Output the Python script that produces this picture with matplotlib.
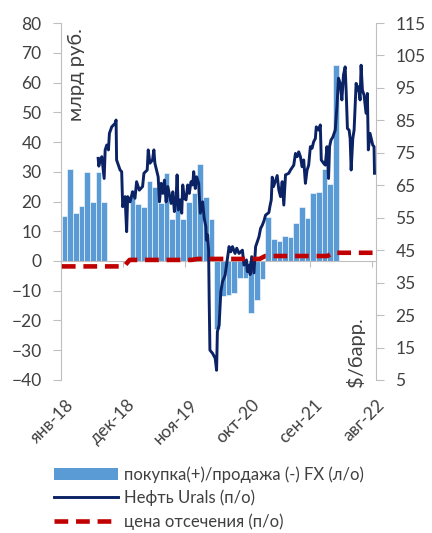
import matplotlib.pyplot as plt
import matplotlib.transforms as mtransforms
import numpy as np
from matplotlib.patches import Patch
from matplotlib.lines import Line2D

nan = np.nan

# покупка/продажа FX по месяцам, млрд руб. (янв-18 ... авг-22)
fx_ops = [
    15, 31, 16, 18.5, 30, 20, 30, 20,          # 2018 янв-авг
    nan, nan, nan, nan,                        # сен-дек 2018, пауза
    24, 19.2, 18.3, 27, 25, 19.6, 29.6, 14,    # 2019 янв-авг
    20, 14, 20, 23,                            # 2019 сен-дек
    32.7, 21.6, 14,                            # 2020 янв-мар
    -23, -11.8, -11.4, -10.6, -5.8, -5.8,      # 2020 апр-сен
    -17.4, -13, -6.2,                          # 2020 окт-дек
    14.9, 7.3, 6.8, 8.4, 8.2, 12.9, 18, 14.5,  # 2021 янв-авг
    22.7, 23.3, 31, 25.8,                      # 2021 сен-дек
    66,                                        # 2022 янв
    nan, nan, nan, nan, nan, nan, nan,         # 2022 фев-авг
]

# цена отсечения, $/барр.
cutoff_years = [2018, 2019, 2020, 2021, 2022]
cutoff_price = [40.0, 42.0, 42.3, 43.2, 44.2]

# Urals, $/барр.; время в месяцах от янв-18
urals_t = [
    6.58, 6.69, 6.94, 7.22, 7.64, 7.82, 8.10, 8.40, 8.57, 8.98, 9.58, 9.75,
    9.84, 10.46, 10.74, 10.92, 11.34, 11.62, 11.80, 12.22, 12.68, 13.10,
    13.38, 13.86, 14.44, 14.68, 15.26, 15.44, 15.74, 16.20, 16.44, 16.62,
    17.20, 17.43, 17.73, 18.03, 18.31, 18.61, 18.91, 19.19, 19.49, 19.79,
    20.07, 20.37, 20.55, 20.77, 21.07, 21.37, 21.55, 21.83, 22.13, 22.43,
    22.71, 23.01, 23.31, 23.49, 23.77, 24.01, 24.37, 24.47, 24.65, 25.07,
    25.35, 25.65, 25.74, 25.95, 26.13, 26.23, 26.36, 26.83, 27.29, 27.54,
    27.68, 27.99, 28.29, 28.59, 29.05, 29.47, 29.75, 30.05, 30.35, 30.81,
    31.11, 31.51, 31.81, 32.11, 32.39, 32.82, 32.99, 33.27, 33.49, 33.75,
    34.15, 34.45, 34.75, 35.04, 35.33, 35.63, 35.92, 36.21, 36.80, 36.97,
    37.22, 37.39, 37.62, 37.98, 38.27, 38.56, 38.86, 39.15, 39.44, 39.74,
    40.32, 40.62, 41.20, 41.50, 41.80, 42.08, 42.38, 42.68, 42.96, 43.26,
    43.56, 43.84, 44.14, 44.44, 44.72, 45.02, 45.19, 45.60, 45.90, 46.07,
    46.48, 46.78, 47.08, 47.36, 47.54, 47.78, 48.13, 48.54, 48.84, 49.12,
    49.42, 49.72, 50.00, 50.30, 50.48, 50.70, 51.00, 51.18, 51.36, 51.65,
    51.88, 52.24, 52.46, 52.64, 52.94, 53.12, 53.35, 53.64, 54.00, 54.23,
    54.40, 54.70, 55.18, 55.41, 55.49,
]
urals = [
    73.3, 70.9, 72.8, 73.8, 67.1, 75.9, 77.4, 75.9, 81, 83, 84.1, 85.1,
    72.8, 69.7, 69.2, 58.4, 61.5, 50.7, 61.5, 59.9, 63, 61,
    66.1, 63.5, 64.6, 68.7, 69.7, 75.9, 71.8, 72.8, 75.9, 71.8,
    67.6, 59.9, 65.6, 62.5, 66.6, 59.9, 64.6, 62, 59.4, 63,
    56.9, 61, 68.2, 57.4, 60.5, 56.4, 65.1, 61, 60.5, 65.1,
    62.5, 66.1, 65.1, 69.2, 64, 67.6, 65.6, 62, 56.4, 59.9,
    54.8, 52.2, 48.1, 49.7, 45, 29.6, 14.2, 13.2, 11.7, 8,
    19.9, 21.9, 32.2, 35.3, 37.3, 42.5, 46.1, 44.5, 46.1, 44,
    45.6, 44, 44.5, 45, 40.4, 42, 38.4, 40.4, 37.5, 43,
    38, 46.1, 47.6, 49.1, 51.7, 52.7, 54, 55.8, 56.6, 58.4,
    60.5, 67.5, 64.6, 66.5, 68, 63.5, 61.5, 66.1, 58.9, 68.2,
    68.7, 69.7, 71.2, 74.8, 73.8, 75.3, 73.8, 70.7, 72.8, 65.6,
    69.7, 71.2, 76.9, 76.4, 78.4, 79.4, 83, 82, 83.6, 72.8,
    71.8, 71.2, 76.9, 67.1, 76.9, 78.9, 79.9, 82, 89.2, 98,
    96.4, 91.3, 99, 101.5, 93.8, 82.5, 82, 79.4, 69.7, 79.4,
    82, 96.4, 94.4, 95.4, 91.3, 102, 94.4, 92.8, 87.2, 93.3,
    75.9, 81, 77.4, 76.9, 68.7,
]

tick_labels = ["янв-18", "дек-18", "ноя-19", "окт-20", "сен-21", "авг-22"]

bar_color = "#5B9BD5"
line_color = "#0B2265"
cut_color = "#C00000"
text_color = "#404040"
axis_color = "#BFBFBF"

plt.rcParams["font.family"] = ["Lato", "DejaVu Sans"]
plt.rcParams["text.color"] = text_color

months = np.arange(len(fx_ops))
offset = 0.15  # окно покупок начинается чуть позже начала месяца
cutoff = [cutoff_price[cutoff_years.index(2018 + m // 12)] for m in months]

fig = plt.figure(figsize=(4.32, 5.33), dpi=100)
ax = fig.add_axes([0.1412, 0.2871, 0.7292, 0.6697])
ax2 = ax.twinx()

ax.bar(months + offset, fx_ops, width=1.0, align="edge", color=bar_color,
       edgecolor="white", linewidth=0.4)
ax2.plot(urals_t, urals, color=line_color, linewidth=2.1, zorder=3)
ax2.plot(months + offset, cutoff, color=cut_color, linewidth=3.3,
         dashes=(3.0, 1.7), zorder=4)

ax.set_xlim(0.3, 55.76)
ax.set_ylim(-40, 80)
ax.set_yticks(np.arange(-40, 81, 10))
ax2.set_ylim(5, 115)
ax2.set_yticks(np.arange(5, 116, 10))

for s in ["top"]:
    ax.spines[s].set_visible(False)
    ax2.spines[s].set_visible(False)
ax2.spines["left"].set_visible(False)
ax2.spines["bottom"].set_visible(False)
ax.spines["right"].set_visible(False)
ax.spines["bottom"].set_position(("data", 0))
for s in ["left", "bottom"]:
    ax.spines[s].set_color(axis_color)
ax2.spines["right"].set_color(axis_color)

ax.set_xticks(np.arange(0, 56, 11))
ax.tick_params(axis="x", labelbottom=False, length=4, color=axis_color)
ax.tick_params(axis="y", length=6, color=axis_color, labelsize=12.5,
               labelcolor=text_color, pad=8)
ax2.tick_params(axis="y", length=6, color=axis_color, labelsize=12.5,
                labelcolor=text_color, pad=8)

sec = ax.secondary_xaxis("bottom")
sec.set_xticks(np.arange(0, 56, 11))
sec.set_xticklabels(tick_labels, rotation=45, ha="right",
                    rotation_mode="anchor", fontsize=12.5, color=text_color)
sec.spines["bottom"].set_visible(False)
sec.tick_params(length=0, pad=12)
shift = mtransforms.ScaledTranslation(3 / 72, 0, fig.dpi_scale_trans)
for lab in sec.get_xticklabels():
    lab.set_transform(lab.get_transform() + shift)

ax.text(0.022, 0.986, "млрд руб.", transform=ax.transAxes, rotation=90,
        ha="left", va="top", fontsize=14.5)
ax.text(0.905, -0.02, "$/барр.", transform=ax.transAxes, rotation=90,
        ha="left", va="bottom", fontsize=14.5)

handles = [
    Patch(facecolor=bar_color, edgecolor="none"),
    Line2D([], [], color=line_color, linewidth=2.1),
    Line2D([], [], color=cut_color, linewidth=3.3, dashes=(3.0, 1.7)),
]
labels = ["покупка(+)/продажа (-) FX (л/о)", "Нефть Urals (п/о)",
          "цена отсечения (п/о)"]
fig.legend(handles, labels, loc="upper left", bbox_to_anchor=(0.11, 0.138),
           frameon=False, fontsize=12, handlelength=3.8, handletextpad=0.4,
           labelspacing=0.42, borderaxespad=0)

fig.savefig("out.png", dpi=100)
